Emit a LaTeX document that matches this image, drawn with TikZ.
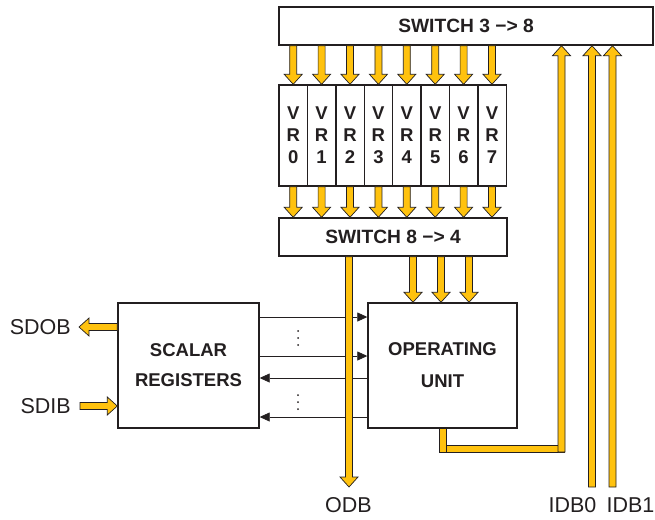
\documentclass[tikz,border=0pt]{standalone}
\usepackage{fontspec}
\setmainfont{Liberation Sans}
\usetikzlibrary{calc,arrows.meta}
\definecolor{busyellow}{HTML}{FFC20E}
\definecolor{ink}{HTML}{231F20}

\begin{document}
\begin{tikzpicture}[x=1pt,y=-1pt,
    box/.style={draw=ink,line width=1.4pt,fill=white,inner sep=0pt,text=ink,align=center,
      font=\fontsize{18.5}{22}\selectfont\bfseries},
    lbl/.style={text=ink,inner sep=0pt,font=\fontsize{21.5}{24}\selectfont},
    link/.style={draw=ink,line width=0.7pt,-{Triangle[length=10pt,width=9pt]}},
    busline/.style={draw=ink,line width=0.7pt,fill=busyellow,to path={
      ($(\tikztostart)!3.5pt!90:(\tikztotarget)$)
      -- ($(\tikztotarget)!3.5pt!-90:(\tikztostart)$)
      -- ($(\tikztotarget)!3.5pt!90:(\tikztostart)$)
      -- ($(\tikztostart)!3.5pt!-90:(\tikztotarget)$) -- cycle}},
    bus/.style={draw=ink,line width=0.7pt,fill=busyellow,to path={
      ($(\tikztostart)!3.5pt!90:(\tikztotarget)$)
      -- ($($(\tikztotarget)!10pt!(\tikztostart)$)!3.5pt!90:(\tikztotarget)$)
      -- ($($(\tikztotarget)!10pt!(\tikztostart)$)!9pt!90:(\tikztotarget)$)
      -- (\tikztotarget)
      -- ($($(\tikztotarget)!10pt!(\tikztostart)$)!9pt!-90:(\tikztotarget)$)
      -- ($($(\tikztotarget)!10pt!(\tikztostart)$)!3.5pt!-90:(\tikztotarget)$)
      -- ($(\tikztostart)!3.5pt!-90:(\tikztotarget)$) -- cycle}}]
  \useasboundingbox (0,0) rectangle (655,519);

  % switches and vector registers
  \node[box,minimum width=374pt,minimum height=38pt,font=\fontsize{19.2}{22}\selectfont\bfseries] (sw38) at (466,26) {SWITCH 3 −> 8};
  \foreach \i in {0,...,7}
    \node[box,minimum width=28.4pt,minimum height=101pt] (vr\i) at (293.2+28.4*\i,135.5) {V\\R\\\i};
  \node[box,minimum width=228pt,minimum height=38pt,font=\fontsize{19.2}{22}\selectfont\bfseries] (sw84) at (393,237) {SWITCH 8 −> 4};

  % scalar side and operating unit
  \node[box,minimum width=141pt,minimum height=125pt,font=\fontsize{18.5}{30}\selectfont\bfseries] (sr) at (188.5,365.5) {SCALAR\\REGISTERS};
  \node[box,minimum width=149pt,minimum height=125pt,font=\fontsize{18.5}{32}\selectfont\bfseries] (ou) at (442.5,365.5) {OPERATING\\UNIT};

  \node[lbl,anchor=east] (sdob) at (71,327) {SDOB};
  \node[lbl,anchor=east] (sdib) at (71,406) {SDIB};
  \node[lbl] (odb) at (348.5,505) {ODB};
  \node[lbl] (idb0) at (572.5,505) {IDB0};
  \node[lbl] (idb1) at (630.5,505) {IDB1};

  \coordinate (sdobtip) at (79,327);
  \coordinate (sdibtail) at (80,406);
  \coordinate (odbtip) at (349,487);
  \coordinate (ouend) at (442.5,452);
  \coordinate (bendl) at (446,448.5);
  \coordinate (bendr) at (564.5,448.5);
  \coordinate (idba) at (561.5,452);
  \coordinate (idbb) at (592,487);
  \coordinate (idbc) at (612.5,487);
  \coordinate (dotsa) at (298,338);
  \coordinate (dotsb) at (298,402);

  % scalar links
  \foreach \y in {317,356} {
    \coordinate (out\y) at (0,\y);
    \draw[link] (sr.east |- out\y) -- (ou.west |- out\y);
  }
  \foreach \y in {378,417} {
    \coordinate (in\y) at (0,\y);
    \draw[link] (ou.west |- in\y) -- (sr.east |- in\y);
  }
  \foreach \c in {dotsa,dotsb}
    \foreach \d in {-7,0,7}
      \fill[ink] ([yshift=\d pt]\c) circle (1pt);

  % buses
  \foreach \i in {0,...,7} {
    \draw[bus] (vr\i.north |- sw38.south) to (vr\i.north);
    \draw[bus] (vr\i.south) to (vr\i.south |- sw84.north);
  }
  \foreach \x [count=\k] in {413,441,469} {
    \coordinate (opin\k) at (\x,0);
    \draw[bus] (sw84.south -| opin\k) to (ou.north -| opin\k);
  }
  \draw[bus] (sw84.south -| odbtip) to (odbtip);
  \draw[bus] (sr.west |- sdobtip) to (sdobtip);
  \draw[bus] (sdibtail) to (sr.west |- sdibtail);
  \draw[busline] (ou.south) to (ouend);
  \draw[busline] (bendl) to (bendr);
  \draw[bus] (idba) to (idba |- sw38.south);
  \draw[bus] (idbb) to (idbb |- sw38.south);
  \draw[bus] (idbc) to (idbc |- sw38.south);
\end{tikzpicture}
\end{document}
